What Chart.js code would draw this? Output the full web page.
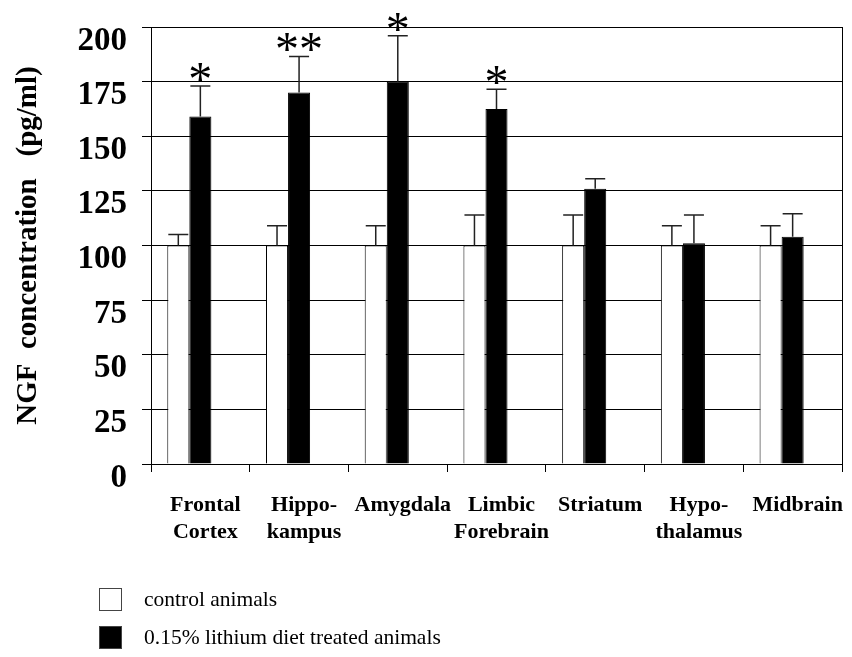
<!DOCTYPE html>
<html>
<head>
<meta charset="utf-8">
<title>NGF concentration</title>
<script src="https://cdn.jsdelivr.net/npm/chart.js@4.4.1/dist/chart.umd.min.js"></script>
<style>
    html, body { margin: 0; padding: 0; background: #fff; }
    #wrap { width: 852px; height: 657px; position: relative; }
</style>
</head>
<body>
<div id="wrap"><canvas id="ngfChart"></canvas></div>
<script>
// Chart data
const regions = [
    ['Frontal', 'Cortex'],
    ['Hippo-', 'kampus'],
    'Amygdala',
    ['Limbic', 'Forebrain'],
    'Striatum',
    ['Hypo-', 'thalamus'],
    'Midbrain'
];
const controlValues = [100, 100, 100, 100, 100, 100, 100];
const controlErrors = [5, 9, 9, 14, 14, 9, 9];
const lithiumValues = [159, 170, 175, 162.5, 126, 101, 104];
const lithiumErrors = [14, 16.5, 21, 9, 4.5, 13, 10.5];
const significance = ['*', '**', '*', '*', '', '', ''];
const yTicks = [0, 25, 50, 75, 100, 125, 150, 175, 200];

const serif = "'Liberation Serif', 'Times New Roman', serif";

// Upward error bars with a cap, plus the significance stars
const errorBarPlugin = {
    id: 'errorBars',
    afterDatasetsDraw(chart) {
        const ctx = chart.ctx;
        const y = chart.scales.y;
        const errors = [controlErrors, lithiumErrors];
        ctx.save();
        ctx.strokeStyle = '#222';
        ctx.lineWidth = 1.5;
        errors.forEach((errs, di) => {
            const meta = chart.getDatasetMeta(di);
            const values = chart.data.datasets[di].data;
            meta.data.forEach((bar, i) => {
                const top = y.getPixelForValue(values[i]);
                const cap = y.getPixelForValue(values[i] + errs[i]);
                ctx.beginPath();
                ctx.moveTo(bar.x, top);
                ctx.lineTo(bar.x, cap);
                ctx.moveTo(bar.x - 10, cap);
                ctx.lineTo(bar.x + 10, cap);
                ctx.stroke();
            });
        });
        // stars above the lithium bars
        const meta = chart.getDatasetMeta(1);
        ctx.fillStyle = '#000';
        ctx.font = '48px ' + serif;
        ctx.textAlign = 'center';
        ctx.textBaseline = 'alphabetic';
        meta.data.forEach((bar, i) => {
            if (!significance[i]) return;
            const cap = y.getPixelForValue(lithiumValues[i] + lithiumErrors[i]);
            ctx.fillText(significance[i], bar.x, cap + 9);
        });
        ctx.restore();
    }
};

// Legend stacked in one column under the axis labels
const columnLegend = {
    id: 'columnLegend',
    afterDraw(chart) {
        const ctx = chart.ctx;
        const left = chart.chartArea.left - 52;
        let top = chart.chartArea.bottom + 124;
        ctx.save();
        ctx.font = '21.5px ' + serif;
        ctx.textBaseline = 'middle';
        ctx.textAlign = 'left';
        chart.data.datasets.slice(0, 2).forEach(ds => {
            ctx.fillStyle = ds.backgroundColor;
            ctx.strokeStyle = '#444';
            ctx.lineWidth = 1;
            ctx.fillRect(left, top, 23, 23);
            ctx.strokeRect(left + 0.5, top + 0.5, 22, 22);
            ctx.fillStyle = '#000';
            ctx.fillText(ds.label, left + 45, top + 12);
            top += 38;
        });
        ctx.restore();
    }
};

const ctx = document.getElementById('ngfChart').getContext('2d');
const ngfChart = new Chart(ctx, {
    type: 'bar',
    data: {
        labels: regions,
        datasets: [{
            label: 'control animals',
            data: controlValues,
            backgroundColor: '#ffffff',
            borderColor: '#000',
            borderWidth: 1
        }, {
            label: '0.15% lithium diet treated animals',
            data: lithiumValues,
            backgroundColor: '#000000',
            borderColor: '#000',
            borderWidth: 1
        }, {
            // empty third slot, as in the original figure
            label: '',
            data: regions.map(() => null),
            backgroundColor: 'transparent'
        }]
    },
    options: {
        responsive: true,
        maintainAspectRatio: false,
        animation: false,
        layout: { padding: { top: 27, right: 10, left: 0, bottom: 0 } },
        datasets: {
            bar: { categoryPercentage: 0.67, barPercentage: 1 }
        },
        plugins: {
            legend: { display: false },
            tooltip: { enabled: false }
        },
        scales: {
            x: {
                grid: {
                    display: true,
                    offset: true,
                    drawOnChartArea: false,
                    tickLength: 8,
                    color: '#000'
                },
                border: { color: '#000', width: 1 },
                ticks: {
                    color: '#000',
                    font: { family: serif, size: 22, weight: 'bold', lineHeight: 1.22 },
                    padding: 20,
                    labelOffset: 5,
                    maxRotation: 0,
                    autoSkip: false
                },
                afterFit(scale) {
                    scale.height = 193;
                    scale.paddingLeft = 0;
                    scale.paddingRight = 0;
                }
            },
            y: {
                min: 0,
                max: 200,
                afterBuildTicks(scale) { scale.ticks = yTicks.map(v => ({ value: v })); },
                grid: { color: '#000', lineWidth: 1, tickLength: 9 },
                border: { color: '#000', width: 1 },
                ticks: {
                    color: '#000',
                    font: { family: serif, size: 33, weight: 'bold' },
                    padding: 15,
                    labelOffset: 14
                },
                title: {
                    display: true,
                    text: 'NGF  concentration   (pg/ml)',
                    color: '#000',
                    font: { family: serif, size: 29, weight: 'bold', lineHeight: 1.2 },
                    padding: { top: 11, bottom: 0 }
                },
                afterFit(scale) {
                    scale.width = 151;
                    scale.paddingTop = 0;
                    scale.paddingBottom = 0;
                }
            },
            yRight: {
                position: 'right',
                min: 0,
                max: 200,
                grid: { display: false },
                ticks: { display: false },
                border: { display: true, color: '#000', width: 1 },
                afterFit(scale) {
                    scale.width = 0;
                    scale.paddingTop = 0;
                    scale.paddingBottom = 0;
                }
            }
        }
    },
    plugins: [errorBarPlugin, columnLegend]
});
</script>
</body>
</html>
